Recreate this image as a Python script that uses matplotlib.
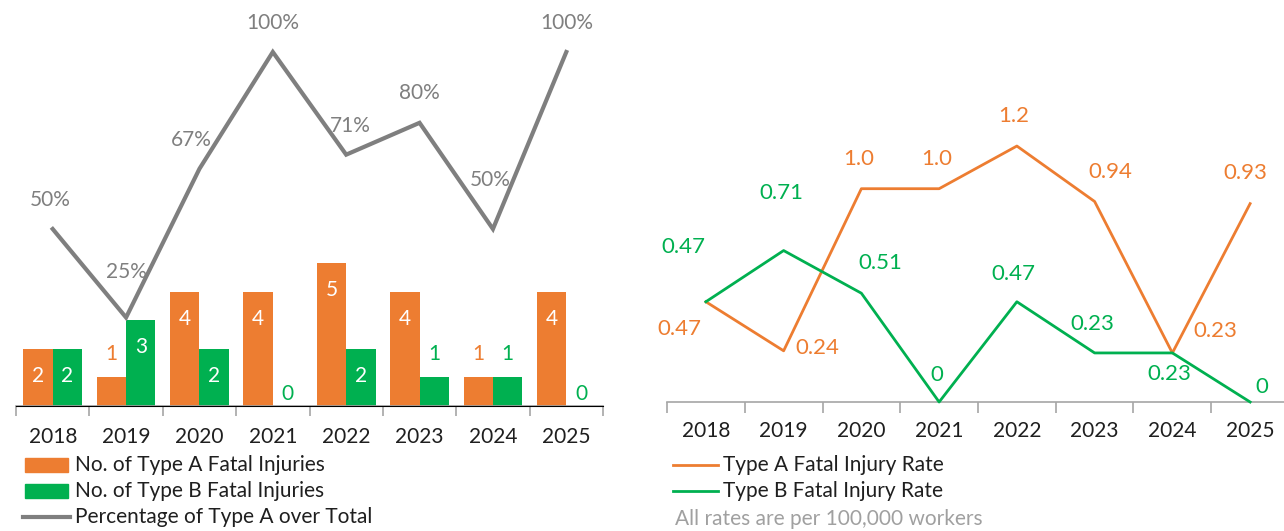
import matplotlib
matplotlib.use("Agg")
import matplotlib.pyplot as plt
from matplotlib.patches import Rectangle
from matplotlib.lines import Line2D
import numpy as np

years = ["2018", "2019", "2020", "2021", "2022", "2023", "2024", "2025"]
type_a_counts = [2, 1, 4, 4, 5, 4, 1, 4]
type_b_counts = [2, 3, 2, 0, 2, 1, 1, 0]
pct_type_a = [0.50, 0.25, 0.67, 1.00, 0.71, 0.80, 0.50, 1.00]
pct_labels = ["50%", "25%", "67%", "100%", "71%", "80%", "50%", "100%"]
rate_a = [0.47, 0.24, 1.0, 1.0, 1.2, 0.94, 0.23, 0.93]
rate_a_labels = ["0.47", "0.24", "1.0", "1.0", "1.2", "0.94", "0.23", "0.93"]
rate_b = [0.47, 0.71, 0.51, 0, 0.47, 0.23, 0.23, 0]
rate_b_labels = ["0.47", "0.71", "0.51", "0", "0.47", "0.23", "0.23", "0"]

ORANGE = "#ED7D31"
GREEN = "#00B050"
GRAY = "#7F7F7F"
AXGRAY = "#A6A6A6"
TXT = "#1F1F1F"

plt.rcParams['font.family'] = ['Lato', 'DejaVu Sans']

W, H = 1284, 531
fig = plt.figure(figsize=(W / 100, H / 100), dpi=100)

def fx(px):
    return px / W

def fy(py):
    return 1 - py / H

x = np.arange(len(years))

# ---------- left chart ----------
lb = 406
axL = fig.add_axes([fx(16), fy(lb), fx(603 - 16), 1 - fy(lb) - 0.0])
axL.set_xlim(-0.5, len(years) - 0.5)
axL.set_ylim(0, lb / 28.6)
bw = 0.4
barsA = axL.bar(x - bw / 2, type_a_counts, width=bw, color=ORANGE, zorder=2)
barsB = axL.bar(x + bw / 2, type_b_counts, width=bw, color=GREEN, zorder=2)
for bars, vals, col in [(barsA, type_a_counts, ORANGE), (barsB, type_b_counts, GREEN)]:
    for b, v in zip(bars, vals):
        cx = b.get_x() + b.get_width() / 2
        if v >= 2:
            axL.annotate(str(v), (cx, v), xytext=(0, -27), textcoords="offset pixels",
                         ha="center", va="center", color="white", fontsize=15)
        else:
            axL.annotate(str(v), (cx, v), xytext=(0, 23 if v > 0 else 12),
                         textcoords="offset pixels",
                         ha="center", va="center", color=col, fontsize=15)

axP = axL.twinx()
axP.set_ylim(0, lb / 354.0)
axP.plot(x, pct_type_a, color=GRAY, lw=3, solid_joinstyle="miter", zorder=3)
pct_off = [(-2, 29), (0, 45), (-8, 29), (0, 29), (4, 29), (0, 30), (-3, 49), (0, 29)]
for xi, v, lab, off in zip(x, pct_type_a, pct_labels, pct_off):
    axP.annotate(lab, (xi, v), xytext=off, textcoords="offset pixels",
                 ha="center", va="center", color=GRAY, fontsize=15)

for a in (axL, axP):
    for s in ["top", "right", "left"]:
        a.spines[s].set_visible(False)
    a.set_yticks([])
axL.spines["bottom"].set_color(AXGRAY)
axL.spines["bottom"].set_linewidth(1.2)
axL.set_xticks(np.arange(len(years) + 1) - 0.5, minor=True)
axL.set_xticks(x)
axL.set_xticklabels(years, fontsize=15, color=TXT)
axL.tick_params(axis="x", which="major", length=0, pad=15)
axL.tick_params(axis="x", which="minor", length=7, color=AXGRAY, width=1.2)

# ---------- right chart ----------
rb = 402
axR = fig.add_axes([fx(667), fy(rb), fx(1289 - 667), 1 - fy(rb)])
axR.set_xlim(-0.5, len(years) - 0.5)
axR.set_ylim(0, rb / 213.3)
axR.plot(x, rate_a, color=ORANGE, lw=2, zorder=3, clip_on=False)
axR.plot(x, rate_b, color=GREEN, lw=2, zorder=3, clip_on=False)
a_off = [(-26, -27), (34, 3), (-3, 30), (-2, 30), (-3, 30), (16, 29), (43, 22), (-5, 31)]
b_off = [(-23, 55), (-2, 58), (19, 30), (-2, 27), (-3, 28), (-2, 29), (-3, -21), (12, 15)]
for xi, v, lab, off in zip(x, rate_a, rate_a_labels, a_off):
    axR.annotate(lab, (xi, v), xytext=off, textcoords="offset pixels",
                 ha="center", va="center", color=ORANGE, fontsize=16)
for xi, v, lab, off in zip(x, rate_b, rate_b_labels, b_off):
    axR.annotate(lab, (xi, v), xytext=off, textcoords="offset pixels",
                 ha="center", va="center", color=GREEN, fontsize=16)
for s in ["top", "right", "left"]:
    axR.spines[s].set_visible(False)
axR.set_yticks([])
axR.spines["bottom"].set_color(AXGRAY)
axR.spines["bottom"].set_linewidth(1.2)
axR.set_xticks(np.arange(len(years) + 1) - 0.5, minor=True)
axR.set_xticks(x)
axR.set_xticklabels(years, fontsize=15, color=TXT)
axR.tick_params(axis="x", which="major", length=0, pad=14)
axR.tick_params(axis="x", which="minor", length=8, color=AXGRAY, width=1.2)

# ---------- legends ----------
leg_left = [("rect", ORANGE, "No. of Type A Fatal Injuries"),
            ("rect", GREEN, "No. of Type B Fatal Injuries"),
            ("line", GRAY, "Percentage of Type A over Total")]
rows = [465, 491, 517]
for (kind, col, lab), ry in zip(leg_left, rows):
    if kind == "rect":
        fig.patches.append(Rectangle((fx(25), fy(ry + 7)), fx(43), 14 / H,
                                     transform=fig.transFigure, color=col))
    else:
        fig.lines.append(Line2D([fx(23), fx(70)], [fy(ry), fy(ry)], transform=fig.transFigure,
                                color=col, lw=3))
    fig.text(fx(75), fy(ry), lab, ha="left", va="center", fontsize=15, color=TXT)

leg_right = [(ORANGE, "Type A Fatal Injury Rate"), (GREEN, "Type B Fatal Injury Rate")]
for (col, lab), ry in zip(leg_right, rows[:2]):
    fig.lines.append(Line2D([fx(673), fx(718)], [fy(ry), fy(ry)], transform=fig.transFigure,
                            color=col, lw=2))
    fig.text(fx(723), fy(ry), lab, ha="left", va="center", fontsize=15, color=TXT)
fig.text(fx(675), fy(519), "All rates are per 100,000 workers", ha="left", va="center",
         fontsize=15, color="#A0A0A0")

fig.savefig("out.png", dpi=100)
